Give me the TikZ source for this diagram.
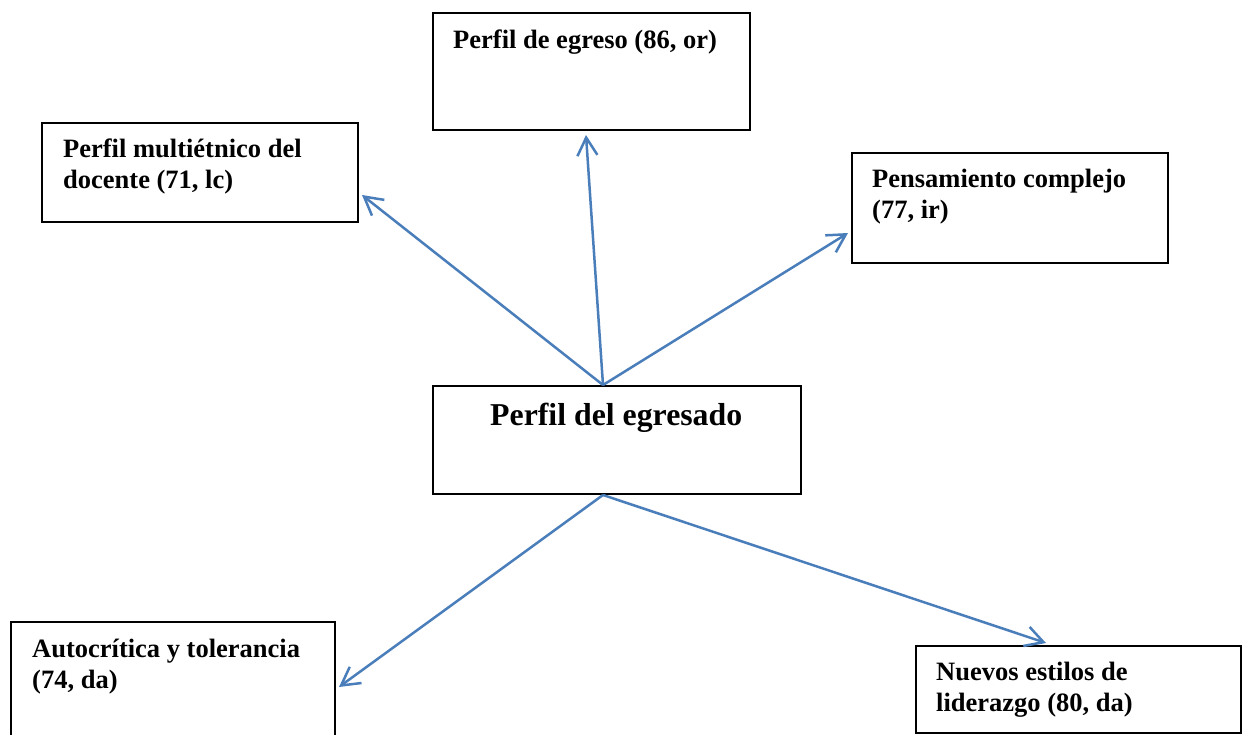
\documentclass[tikz,border=0pt]{standalone}
\usepackage{fontspec}
\setmainfont{Liberation Serif}
\usetikzlibrary{arrows.meta}
\definecolor{flecha}{HTML}{4A7EBB}
\newcommand{\textoCaja}[0]{\fontsize{26.5}{31}\selectfont\bfseries}
\newcommand{\textoTitulo}[0]{\fontsize{31.8}{37}\selectfont\bfseries}

\begin{document}
\begin{tikzpicture}[x=1pt, y=-1pt]
  \tikzset{caja/.style={draw, line width=2pt, anchor=north west, inner sep=0pt},
           texto/.style={anchor=base west, inner sep=0pt, align=left, font=\textoCaja},
           conector/.style={draw=flecha, line width=2.5pt, -{Straight Barb[length=18pt, width=20pt]}}}
  \clip (0,0) rectangle (1244,734);
  \fill[white] (0,0) rectangle (1244,734);
  % cajas
  \node[caja, minimum width=317pt, minimum height=117pt] (egreso) at (432,12) {};
  \node[caja, minimum width=316pt, minimum height=99pt] (multietnico) at (41,122) {};
  \node[caja, minimum width=316pt, minimum height=110pt] (complejo) at (851,152) {};
  \node[caja, minimum width=368pt, minimum height=108pt] (egresado) at (432,385) {};
  \node[caja, minimum width=324pt, minimum height=140pt] (autocritica) at (10,621) {};
  \node[caja, minimum width=325pt, minimum height=87pt] (liderazgo) at (915,645) {};
  % textos (base = linea de abajo)
  \node[texto] (egreso-txt) at ([shift={(21,36)}]egreso.north west) {Perfil de egreso (86, or)};
  \node[texto] (multietnico-txt) at ([shift={(22,66)}]multietnico.north west) {Perfil multiétnico del\\docente (71, lc)};
  \node[texto] (complejo-txt) at ([shift={(21,66)}]complejo.north west) {Pensamiento complejo\\(77, ir)};
  \node[texto, font=\textoTitulo] (egresado-txt) at ([shift={(58,40)}]egresado.north west) {Perfil del egresado};
  \node[texto] (autocritica-txt) at ([shift={(22,67)}]autocritica.north west) {Autocrítica y tolerancia\\(74, da)};
  \node[texto] (liderazgo-txt) at ([shift={(21,66)}]liderazgo.north west) {Nuevos estilos de\\liderazgo (80, da)};
  % flechas
  \coordinate (arriba) at ([shift={(-14,0)}]egresado.north);
  \coordinate (abajo) at ([shift={(-14,0)}]egresado.south);
  \draw[conector] (arriba) -- ([shift={(3,22.5)}]multietnico.east);
  \draw[conector] (arriba) -- ([shift={(-5.5,4)}]egreso.south);
  \draw[conector] (arriba) -- ([shift={(-3,25)}]complejo.west);
  \draw[conector] (abajo) -- ([shift={(3,66)}]autocritica.north east);
  \draw[conector] (abajo) -- ([shift={(-32.5,-2)}]liderazgo.north);
\end{tikzpicture}
\end{document}
